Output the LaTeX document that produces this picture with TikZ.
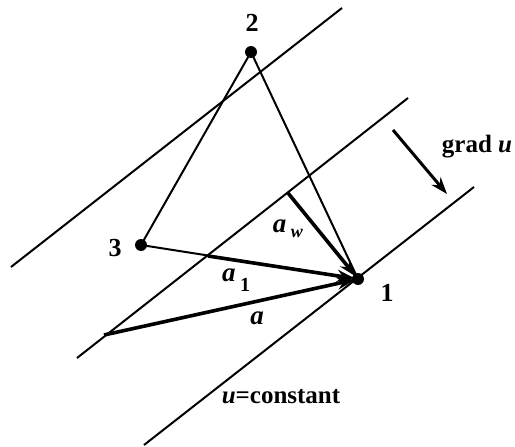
\documentclass[tikz,border=0pt]{standalone}
\usepackage{fontspec}
\setmainfont{Liberation Serif}
\usetikzlibrary{arrows.meta,calc}
\begin{document}
\begin{tikzpicture}[x=1pt,y=-1pt,
  thinline/.style={line width=2pt},
  vec/.style={line width=3.6pt,-{Stealth[length=18pt,width=12pt]},shorten >=3pt},
  dot/.style={circle,fill=black,inner sep=0pt,minimum size=12pt},
  lbl/.style={font=\fontsize{25}{28}\selectfont\bfseries,inner sep=0pt},
  nlbl/.style={font=\fontsize{26}{28}\selectfont\bfseries,inner sep=0pt},
  ilbl/.style={font=\fontsize{27}{30}\selectfont\bfseries\itshape,inner sep=0pt}]
\useasboundingbox (0,0) rectangle (515,447);
% level lines u=constant
\coordinate (l1a) at (11,267);  \coordinate (l1b) at (342,8);
\coordinate (l2a) at (77,358);  \coordinate (l2b) at (408,98);
\coordinate (l3a) at (144,445); \coordinate (l3b) at (474,187);
\draw[thinline] (l1a) -- (l1b);
\draw[thinline] (l2a) -- (l2b);
\draw[thinline] (l3a) -- (l3b);
% vertices
\node[dot] (p1) at (358,279) {};
\node[dot] (p2) at (251,52) {};
\node[dot] (p3) at (141,245) {};
\node[nlbl] (t1) at (387,293) {1};
\node[nlbl] (t2) at (252,23) {2};
\node[nlbl] (t3) at (115,248) {3};
% triangle
\draw[thinline] (p2.center) -- (p3.center);
\draw[thinline] (p2.center) -- (p1.center);
\draw[thinline] (p3.center) -- (p1.center);
% vectors
\coordinate (qa) at (104,335);
\coordinate (qw) at (288,193);
\coordinate (q1) at (208,256);
\draw[vec] (qw) -- (p1.center);
\draw[vec] (q1) -- (p1.center);
\draw[vec] (qa) -- (p1.center);
\node[ilbl] (law) at (288,229) {a\,\raisebox{-5pt}{\fontsize{18}{18}\selectfont w}};
\node[ilbl] (la1) at (236,280) {a\,\raisebox{-10pt}{\fontsize{20}{20}\selectfont\upshape 1}};
\node[ilbl] (la) at (257,318) {a};
% gradient
\coordinate (g1) at (393,130);
\coordinate (g2) at (447,194);
\draw[line width=3pt,-{Stealth[length=17pt,width=12pt]}] (g1) -- (g2);
\node[lbl] (lg) at (477,147) {grad \textit{u}};
\node[lbl] (lc) at (281,397) {\textit{u}=constant};
\end{tikzpicture}
\end{document}
